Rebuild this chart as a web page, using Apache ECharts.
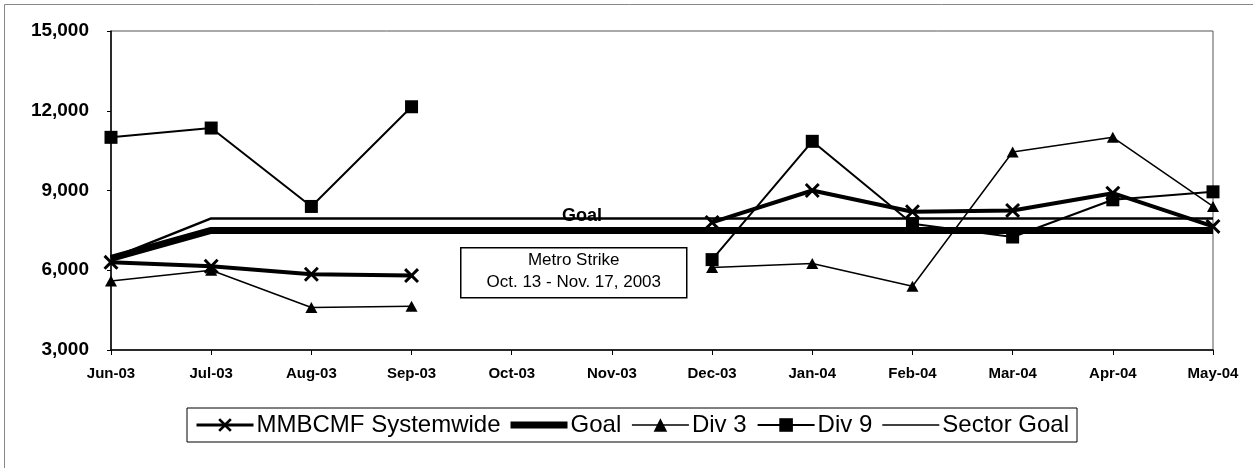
<!DOCTYPE html>
<html>
<head>
<meta charset="utf-8">
<script src="https://cdn.jsdelivr.net/npm/echarts@6/dist/echarts.min.js"></script>
<style>
    html, body { margin: 0; padding: 0; background: #fff; }
    #chart { width: 1253px; height: 468px; }
</style>
</head>
<body>
<div id="chart"></div>
<script>
// values
const months = ['Jun-03', 'Jul-03', 'Aug-03', 'Sep-03', 'Oct-03', 'Nov-03',
    'Dec-03', 'Jan-04', 'Feb-04', 'Mar-04', 'Apr-04', 'May-04'];
const systemwide = [6300, 6150, 5850, 5800, null, null, 7800, 9000, 8200, 8250, 8900, 7650];
const goal = [6450, 7500, 7500, 7500, 7500, 7500, 7500, 7500, 7500, 7500, 7500, 7500];
const div3 = [5600, 6000, 4600, 4650, null, null, 6100, 6250, 5400, 10450, 11000, 8400];
const div9 = [11000, 11350, 8400, 12150, null, null, 6400, 10850, 7750, 7250, 8650, 8950];
const sectorGoal = [6450, 7950, 7950, 7950, 7950, 7950, 7950, 7950, 7950, 7950, 7950, 7950];
const yTicks = [3000, 6000, 9000, 12000, 15000];

const FONT = '"Liberation Sans", Arial, sans-serif';
const CROSS = 'path://M0,1.4L1.4,0L5,3.6L8.6,0L10,1.4L6.4,5L10,8.6L8.6,10L5,6.4L1.4,10L0,8.6L3.6,5Z';

const myChart = echarts.init(document.getElementById('chart'));

let option = {
    animation: false,
    backgroundColor: '#fff',
    textStyle: {fontFamily: FONT, color: '#000'},
    grid: {
        left: 111, right: 40, top: 31, bottom: 118,
        show: true, borderColor: '#555', borderWidth: 1
    },
    legend: {
        left: 187, top: 408,
        padding: [5, 8],
        itemGap: 10,
        itemWidth: 57,
        itemHeight: 17,
        borderColor: '#000',
        borderWidth: 1,
        textStyle: {fontFamily: FONT, fontSize: 24, color: '#000', padding: [0, 0, 0, -2]},
        data: [
            {name: 'MMBCMF Systemwide', lineStyle: {width: 3, color: '#000'}},
            {name: 'Goal', icon: 'path://M0,0H57V7H0Z'},
            {name: 'Div 3', lineStyle: {width: 1.4, color: '#000'}},
            {name: 'Div 9', lineStyle: {width: 2, color: '#000'}},
            {name: 'Sector Goal', icon: 'path://M0,0H57V1.6H0Z'}
        ]
    },
    xAxis: {
        type: 'category',
        data: months,
        boundaryGap: false,
        axisLine: {lineStyle: {color: '#000', width: 1.5}},
        axisTick: {show: true, length: 5, lineStyle: {color: '#000'}},
        axisLabel: {
            fontFamily: FONT, fontSize: 15, fontWeight: 'bold', color: '#000',
            margin: 16, interval: 0
        },
        splitLine: {show: false}
    },
    yAxis: {
        type: 'value',
        min: yTicks[0],
        max: yTicks[yTicks.length - 1],
        interval: 3000,
        axisLine: {show: true, lineStyle: {color: '#000', width: 1.5}},
        axisTick: {show: true, length: 4, lineStyle: {color: '#000'}},
        axisLabel: {
            fontFamily: FONT, fontSize: 19, fontWeight: 'bold', color: '#000',
            margin: 22,
            formatter: (v) => v.toLocaleString('en-US')
        },
        splitLine: {show: false}
    },
    series: [
        {
            name: 'Sector Goal',
            type: 'line',
            data: sectorGoal,
            symbol: 'none',
            lineStyle: {color: '#000', width: 2.5},
            itemStyle: {color: '#000'},
            z: 2
        },
        {
            name: 'Goal',
            type: 'line',
            data: goal,
            symbol: 'none',
            lineStyle: {color: '#000', width: 7},
            itemStyle: {color: '#000'},
            z: 2
        },
        {
            name: 'Div 3',
            type: 'line',
            data: div3,
            connectNulls: false,
            symbol: 'triangle',
            symbolSize: [12, 11],
            lineStyle: {color: '#000', width: 1.5},
            itemStyle: {color: '#000', borderWidth: 0},
            z: 3
        },
        {
            name: 'Div 9',
            type: 'line',
            data: div9,
            connectNulls: false,
            symbol: 'rect',
            symbolSize: 13,
            lineStyle: {color: '#000', width: 2},
            itemStyle: {color: '#000', borderWidth: 0},
            z: 3
        },
        {
            name: 'MMBCMF Systemwide',
            type: 'line',
            data: systemwide,
            connectNulls: false,
            symbol: CROSS,
            symbolSize: 15,
            lineStyle: {color: '#000', width: 4},
            itemStyle: {color: '#000', borderWidth: 0},
            z: 4
        }
    ],
    graphic: [
        // outer frame of the picture (only top and left edges show)
        {
            type: 'rect', left: 2, top: 2, z: -1, silent: true,
            shape: {width: 1300, height: 520},
            style: {fill: 'none', stroke: '#888', lineWidth: 1}
        },
        {
            type: 'text', left: 562, top: 207, z: 1,
            style: {
                text: 'Goal', fill: '#000',
                font: 'bold 18px ' + FONT
            }
        },
        {
            type: 'group', left: 460, top: 247, z: 10,
            children: [
                {
                    type: 'rect',
                    shape: {x: 0, y: 0, width: 226, height: 50},
                    style: {fill: '#fff', stroke: '#000', lineWidth: 1.5}
                },
                {
                    type: 'text', x: 113, y: 13,
                    style: {
                        text: 'Metro Strike', fill: '#000',
                        font: '17px ' + FONT,
                        textAlign: 'center', textVerticalAlign: 'middle'
                    }
                },
                {
                    type: 'text', x: 113, y: 35,
                    style: {
                        text: 'Oct. 13 - Nov. 17, 2003', fill: '#000',
                        font: '17px ' + FONT,
                        textAlign: 'center', textVerticalAlign: 'middle'
                    }
                }
            ]
        }
    ]
};

myChart.setOption(option);
</script>
</body>
</html>
